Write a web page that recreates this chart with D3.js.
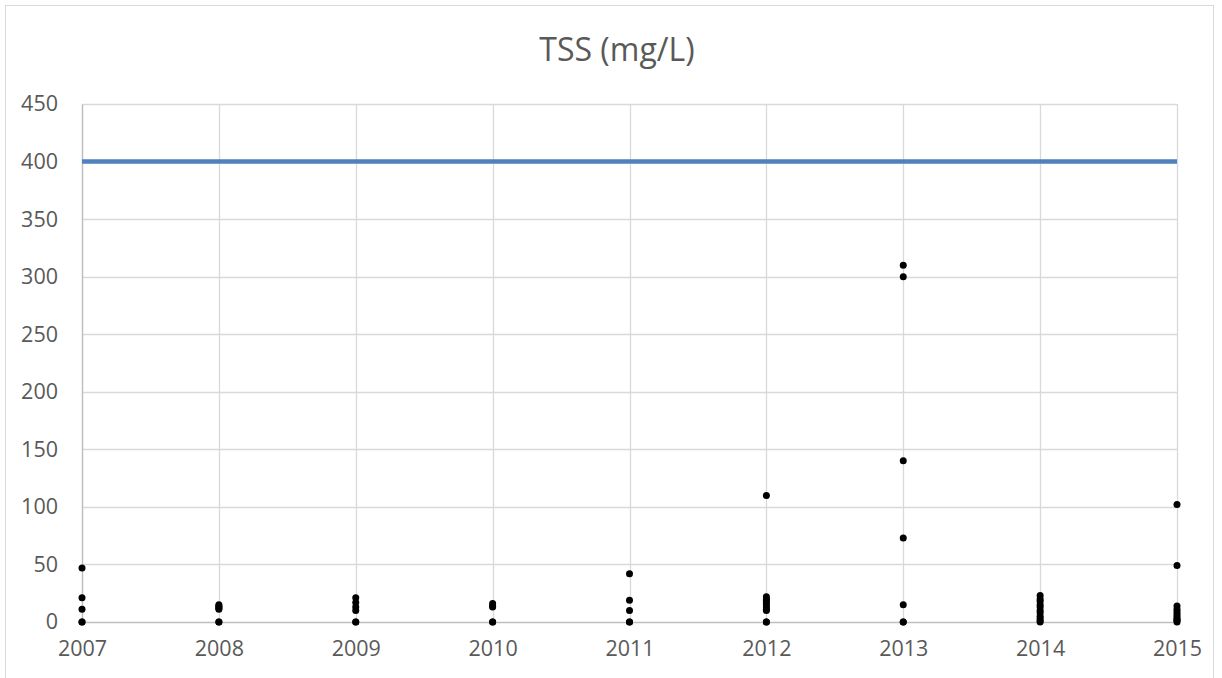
<!DOCTYPE html>
<html>
<head>
<meta charset="utf-8">
<script src="https://cdn.jsdelivr.net/npm/d3@7"></script>
<style>
    body { margin: 0; background: #fff; }
    #chart-area text { font-family: "Open Sans", "Liberation Sans", sans-serif; fill: #595959; }
</style>
</head>
<body>
<div id="chart-area"></div>
<script>
// chart data
let years = [2007, 2008, 2009, 2010, 2011, 2012, 2013, 2014, 2015];
let yTicks = [0, 50, 100, 150, 200, 250, 300, 350, 400, 450];
let threshold = 400;

// TSS samples per year (mg/L)
let tss2007 = [47, 21, 11, 0, 0];
let tss2008 = [15, 14, 13, 12, 11, 0, 0];
let tss2009 = [21, 17, 13, 10, 0, 0];
let tss2010 = [16, 14, 13, 0, 0];
let tss2011 = [42, 19, 10, 0, 0];
let tss2012 = [110, 22, 20, 19, 17, 15, 13, 11, 10, 0, 0];
let tss2013 = [310, 300, 140, 73, 15, 0, 0];
let tss2014 = [23, 20, 18, 15, 13, 10, 8, 5, 3, 1, 0];
let tss2015 = [102, 49, 14, 11, 9, 7, 5, 3, 2, 1, 0];

let samplesByYear = [tss2007, tss2008, tss2009, tss2010, tss2011, tss2012, tss2013, tss2014, tss2015];

let points = [];
years.forEach((yr, i) => {
    samplesByYear[i].forEach(v => points.push({year: yr, value: v}));
});

let margin = {top: 104, right: 45, bottom: 56, left: 82};
let svgWidth = 1222, svgHeight = 678;
let width = svgWidth - margin.left - margin.right,
    height = svgHeight - margin.top - margin.bottom;

let svgRoot = d3.select("#chart-area").append("svg")
    .attr("width", svgWidth)
    .attr("height", svgHeight);

// chart border
svgRoot.append("rect")
    .attr("x", 5.5).attr("y", 5.5)
    .attr("width", 1208).attr("height", 700)
    .attr("fill", "none")
    .attr("stroke", "#d9d9d9");

// title
svgRoot.append("text")
    .attr("x", 617)
    .attr("y", 61)
    .attr("text-anchor", "middle")
    .style("font-size", "32px")
    .text("TSS (mg/L)");

let svg = svgRoot.append("g")
    .attr("transform", "translate(" + margin.left + "," + margin.top + ")");

// scales
let x = d3.scaleLinear()
    .domain([d3.min(years), d3.max(years)])
    .range([0, width]);

let y = d3.scaleLinear()
    .domain([0, 450])
    .range([height, 0]);

// gridlines
svg.append("g").selectAll("line.hgrid")
    .data(yTicks.filter(d => d > 0))
    .enter().append("line")
    .attr("class", "hgrid")
    .attr("x1", 0).attr("x2", width)
    .attr("y1", d => Math.round(y(d)) + 0.5)
    .attr("y2", d => Math.round(y(d)) + 0.5)
    .attr("stroke", "#d9d9d9")
    .attr("stroke-width", 1.3);

svg.append("g").selectAll("line.vgrid")
    .data(years.slice(1))
    .enter().append("line")
    .attr("class", "vgrid")
    .attr("x1", d => Math.round(x(d)) + 0.5)
    .attr("x2", d => Math.round(x(d)) + 0.5)
    .attr("y1", 0).attr("y2", height)
    .attr("stroke", "#d9d9d9")
    .attr("stroke-width", 1.3);

// axes
let xAxis = d3.axisBottom(x)
    .tickValues(years)
    .tickFormat(d3.format("d"))
    .tickSize(0)
    .tickPadding(19);

let yAxis = d3.axisLeft(y)
    .tickValues(yTicks)
    .tickSize(0)
    .tickPadding(24);

svg.append("g")
    .attr("class", "x-axis axis")
    .attr("transform", "translate(0," + height + ")")
    .call(xAxis);

svg.append("g")
    .attr("class", "y-axis axis")
    .call(yAxis);

svg.selectAll(".axis path").attr("stroke", "#bfbfbf").attr("stroke-width", 1.5);
svg.selectAll(".axis text").style("font-size", "21.5px").attr("fill", "#595959");
svg.select(".x-axis").selectAll("text").attr("dy", "0.71em");

// threshold line
svg.append("line")
    .attr("x1", x(d3.min(years)))
    .attr("x2", x(d3.max(years)))
    .attr("y1", y(threshold))
    .attr("y2", y(threshold))
    .attr("stroke", "#4f81bd")
    .attr("stroke-width", 4.5);

// samples
svg.append("g").selectAll("circle")
    .data(points)
    .enter().append("circle")
    .attr("cx", d => x(d.year))
    .attr("cy", d => y(d.value))
    .attr("r", 3.5)
    .attr("fill", "#000");
</script>
</body>
</html>
